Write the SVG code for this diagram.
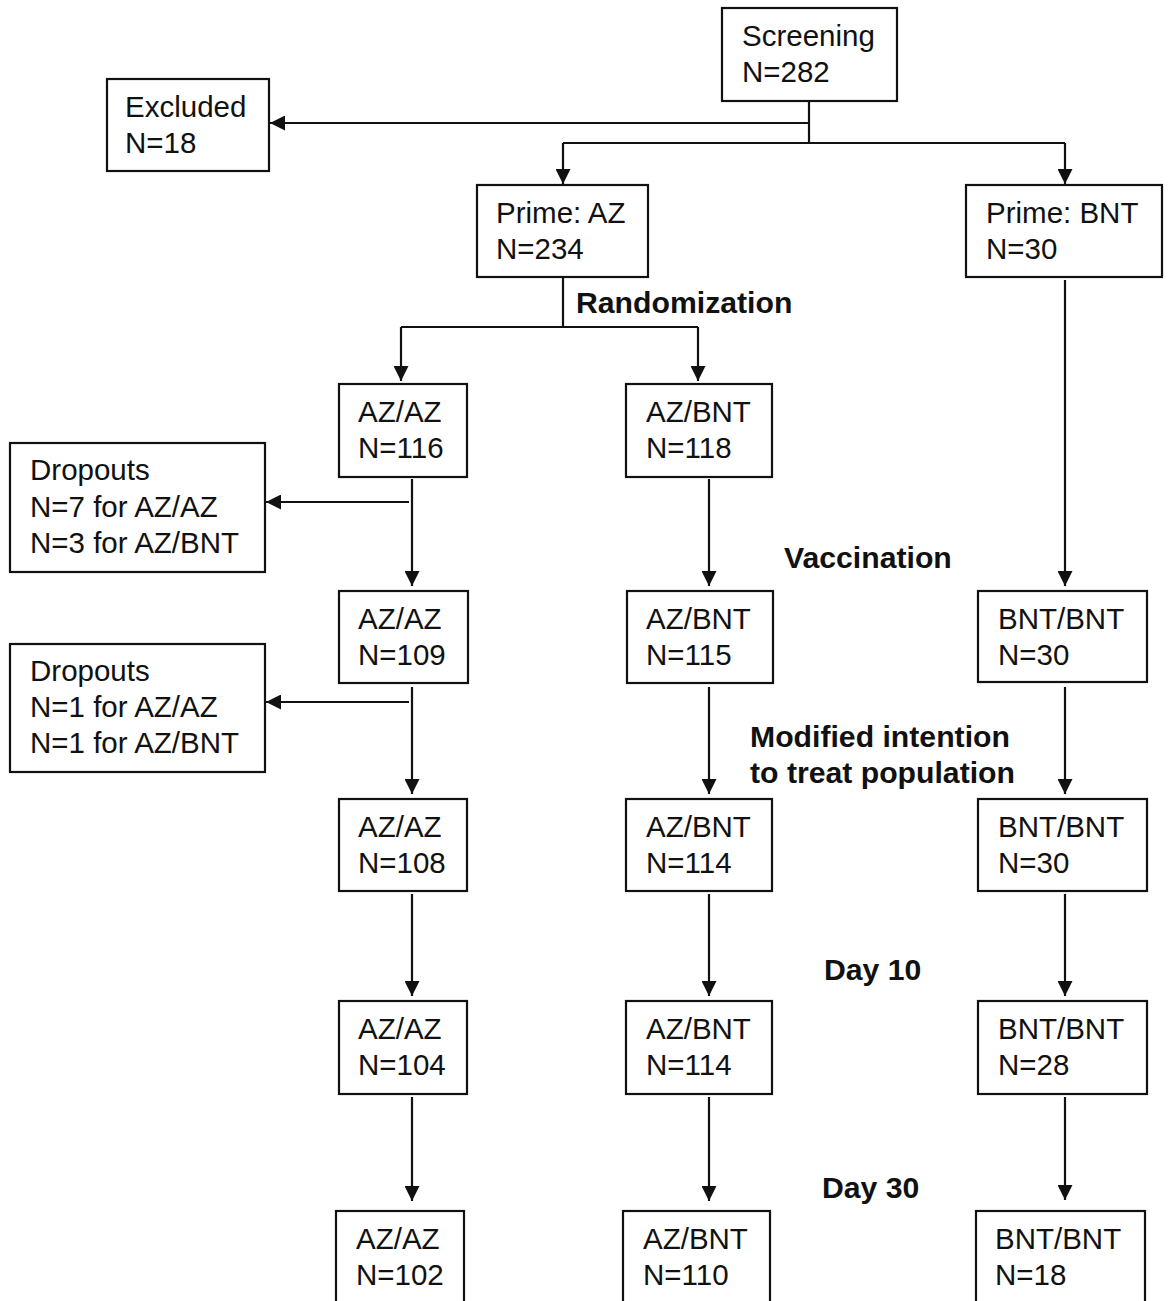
<svg xmlns="http://www.w3.org/2000/svg" width="1168" height="1301" viewBox="0 0 1168 1301">
<style>
.box{fill:#fff;stroke:#111;stroke-width:2.2}
.t{font-family:"Liberation Sans",Arial,sans-serif;font-size:29.5px;fill:#111}
.b{font-family:"Liberation Sans",Arial,sans-serif;font-size:30.2px;font-weight:bold;fill:#111}
.c{fill:none;stroke:#111;stroke-width:2.2}
</style>
<defs>
<marker id="ah" markerUnits="userSpaceOnUse" markerWidth="15" markerHeight="15" refX="15" refY="7.5" orient="auto" viewBox="0 0 15 15">
<path d="M0,0 L15,7.5 L0,15 z" fill="#111"/>
</marker>
</defs>
<rect width="1168" height="1301" fill="#fff"/>
<g id="connectors">
<path class="c" d="M809,101 V143"/>
<path class="c" d="M809,123 H270" marker-end="url(#ah)"/>
<path class="c" d="M563,143 H1065"/>
<path class="c" d="M563,143 V184" marker-end="url(#ah)"/>
<path class="c" d="M1065,143 V184" marker-end="url(#ah)"/>
<path class="c" d="M563,277 V327"/>
<path class="c" d="M401,327 H698"/>
<path class="c" d="M401,327 V381" marker-end="url(#ah)"/>
<path class="c" d="M698,327 V381" marker-end="url(#ah)"/>
<path class="c" d="M1065,280 V586" marker-end="url(#ah)"/>
<path class="c" d="M412,479 V586" marker-end="url(#ah)"/>
<path class="c" d="M409,502 H266" marker-end="url(#ah)"/>
<path class="c" d="M709,479 V586" marker-end="url(#ah)"/>
<path class="c" d="M412,687 V794" marker-end="url(#ah)"/>
<path class="c" d="M409,702 H266" marker-end="url(#ah)"/>
<path class="c" d="M709,687 V794" marker-end="url(#ah)"/>
<path class="c" d="M1065,687 V794" marker-end="url(#ah)"/>
<path class="c" d="M412,894 V996" marker-end="url(#ah)"/>
<path class="c" d="M709,894 V996" marker-end="url(#ah)"/>
<path class="c" d="M1065,894 V996" marker-end="url(#ah)"/>
<path class="c" d="M412,1097 V1201" marker-end="url(#ah)"/>
<path class="c" d="M709,1097 V1201" marker-end="url(#ah)"/>
<path class="c" d="M1065,1097 V1200" marker-end="url(#ah)"/>
</g>
<g id="screening"><rect class="box" x="722" y="8" width="175" height="93"/><text class="t" x="742" y="46">Screening</text><text class="t" x="742" y="82">N=282</text></g>
<g id="excluded"><rect class="box" x="107" y="79" width="162" height="92"/><text class="t" x="125" y="117">Excluded</text><text class="t" x="125" y="153">N=18</text></g>
<g id="prime-az"><rect class="box" x="477" y="185" width="171" height="92"/><text class="t" x="496" y="223">Prime: AZ</text><text class="t" x="496" y="259">N=234</text></g>
<g id="prime-bnt"><rect class="box" x="966" y="185" width="196" height="92"/><text class="t" x="986" y="223">Prime: BNT</text><text class="t" x="986" y="259">N=30</text></g>
<g id="label-randomization"><text class="b" x="576" y="313">Randomization</text></g>
<g id="azaz-116"><rect class="box" x="339" y="384" width="128" height="93"/><text class="t" x="358" y="422">AZ/AZ</text><text class="t" x="358" y="458">N=116</text></g>
<g id="azbnt-118"><rect class="box" x="626" y="384" width="146" height="93"/><text class="t" x="646" y="422">AZ/BNT</text><text class="t" x="646" y="458">N=118</text></g>
<g id="dropouts-1"><rect class="box" x="10" y="443" width="255" height="129"/><text class="t" x="30" y="480">Dropouts</text><text class="t" x="30" y="517">N=7 for AZ/AZ</text><text class="t" x="30" y="553">N=3 for AZ/BNT</text></g>
<g id="label-vaccination"><text class="b" x="784" y="568">Vaccination</text></g>
<g id="azaz-109"><rect class="box" x="339" y="591" width="129" height="92"/><text class="t" x="358" y="629">AZ/AZ</text><text class="t" x="358" y="665">N=109</text></g>
<g id="azbnt-115"><rect class="box" x="627" y="591" width="146" height="92"/><text class="t" x="646" y="629">AZ/BNT</text><text class="t" x="646" y="665">N=115</text></g>
<g id="bntbnt-30a"><rect class="box" x="978" y="591" width="169" height="91"/><text class="t" x="998" y="629">BNT/BNT</text><text class="t" x="998" y="665">N=30</text></g>
<g id="dropouts-2"><rect class="box" x="10" y="644" width="255" height="128"/><text class="t" x="30" y="681">Dropouts</text><text class="t" x="30" y="717">N=1 for AZ/AZ</text><text class="t" x="30" y="753">N=1 for AZ/BNT</text></g>
<g id="label-mitt"><text class="b" x="750" y="747">Modified intention</text><text class="b" x="750" y="783">to treat population</text></g>
<g id="azaz-108"><rect class="box" x="339" y="799" width="128" height="92"/><text class="t" x="358" y="837">AZ/AZ</text><text class="t" x="358" y="873">N=108</text></g>
<g id="azbnt-114a"><rect class="box" x="626" y="799" width="146" height="92"/><text class="t" x="646" y="837">AZ/BNT</text><text class="t" x="646" y="873">N=114</text></g>
<g id="bntbnt-30b"><rect class="box" x="978" y="799" width="169" height="92"/><text class="t" x="998" y="837">BNT/BNT</text><text class="t" x="998" y="873">N=30</text></g>
<g id="label-day10"><text class="b" x="824" y="980">Day 10</text></g>
<g id="azaz-104"><rect class="box" x="339" y="1001" width="128" height="93"/><text class="t" x="358" y="1039">AZ/AZ</text><text class="t" x="358" y="1075">N=104</text></g>
<g id="azbnt-114b"><rect class="box" x="626" y="1001" width="146" height="93"/><text class="t" x="646" y="1039">AZ/BNT</text><text class="t" x="646" y="1075">N=114</text></g>
<g id="bntbnt-28"><rect class="box" x="978" y="1001" width="169" height="93"/><text class="t" x="998" y="1039">BNT/BNT</text><text class="t" x="998" y="1075">N=28</text></g>
<g id="label-day30"><text class="b" x="822" y="1198">Day 30</text></g>
<g id="azaz-102"><rect class="box" x="336" y="1211" width="128" height="100"/><text class="t" x="356" y="1249">AZ/AZ</text><text class="t" x="356" y="1285">N=102</text></g>
<g id="azbnt-110"><rect class="box" x="623" y="1211" width="147" height="100"/><text class="t" x="643" y="1249">AZ/BNT</text><text class="t" x="643" y="1285">N=110</text></g>
<g id="bntbnt-18"><rect class="box" x="976" y="1211" width="169" height="100"/><text class="t" x="995" y="1249">BNT/BNT</text><text class="t" x="995" y="1285">N=18</text></g>
</svg>
